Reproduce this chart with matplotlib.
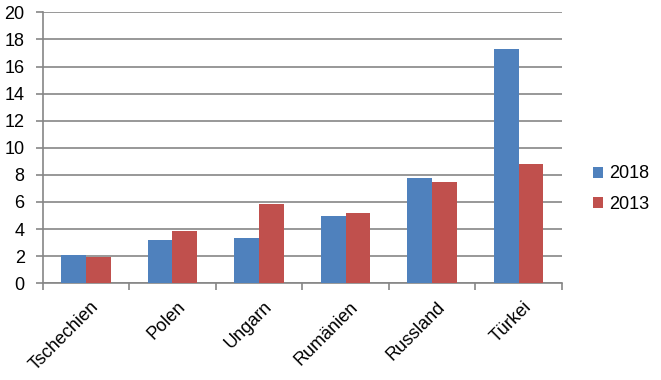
import matplotlib.pyplot as plt
import matplotlib.transforms as mtransforms
import numpy as np

plt.rcParams['font.family'] = ['Liberation Sans', 'DejaVu Sans']

laender = ['Tschechien', 'Polen', 'Ungarn', 'Rumänien', 'Russland', 'Türkei']
werte_2018 = [2.1, 3.2, 3.35, 4.97, 7.78, 17.3]
werte_2013 = [1.95, 3.87, 5.86, 5.2, 7.48, 8.8]
jahre = ['2018', '2013']
farben = ['#4F81BD', '#C0504D']
grau = '#868686'

fig = plt.figure(figsize=(6.61, 3.80), dpi=100)
ax = fig.add_axes([0.0646, 0.2545, 0.7854, 0.7131])

x = np.arange(len(laender))
breite = 1 / 3.5
ax.bar(x - breite / 2, werte_2018, breite, color=farben[0], label=jahre[0], zorder=3)
ax.bar(x + breite / 2, werte_2013, breite, color=farben[1], label=jahre[1], zorder=3)

ax.set_xlim(-0.5, len(laender) - 0.5)
ax.set_ylim(0, 20)
ax.set_yticks(np.arange(0, 21, 2))
ax.yaxis.grid(True, color=grau, linewidth=1.2, zorder=0)

# Kategorie-Grenzen als Tick-Striche, Beschriftung in der Mitte
ax.set_xticks(np.arange(-0.5, len(laender), 1))
ax.set_xticklabels([])
ax.set_xticks(x, minor=True)
ax.set_xticklabels(laender, minor=True, rotation=45, ha='right', va='top',
                   rotation_mode='anchor', fontsize=13)
ax.tick_params(axis='x', which='minor', length=0, pad=11)
ax.tick_params(axis='x', which='major', length=5, width=1.2, color=grau)
ax.tick_params(axis='y', length=5, width=1.2, color=grau, labelsize=13, pad=8)

versatz = mtransforms.ScaledTranslation(3 / 72, 0, fig.dpi_scale_trans)
for lab in ax.get_xticklabels(minor=True):
    lab.set_transform(lab.get_transform() + versatz)

for s in ['top', 'right']:
    ax.spines[s].set_visible(False)
for s in ['left', 'bottom']:
    ax.spines[s].set_color(grau)
    ax.spines[s].set_linewidth(1.2)

fig.legend(loc='center left', bbox_to_anchor=(0.872, 0.502), frameon=False,
           fontsize=13, handlelength=0.55, handleheight=0.55, handletextpad=0.35,
           labelspacing=0.75)

fig.savefig('out.png', dpi=100)
